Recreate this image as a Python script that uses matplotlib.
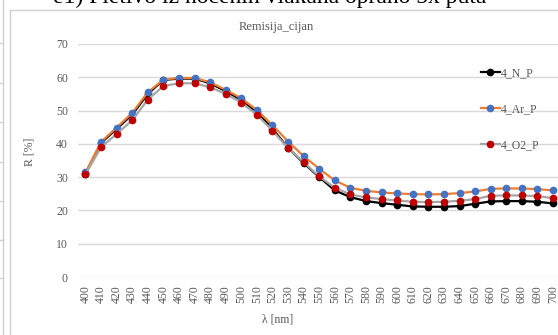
import matplotlib
matplotlib.use("Agg")
import matplotlib.pyplot as plt
from matplotlib.lines import Line2D

plt.rcParams['font.family'] = ['Liberation Serif', 'DejaVu Serif']

# talasne duzine (kategorije)
wavelengths = [400, 410, 420, 430, 440, 450, 460, 470, 480, 490, 500,
               510, 520, 530, 540, 550, 560, 570, 580, 590, 600,
               610, 620, 630, 640, 650, 660, 670, 680, 690, 700]

n_p = [31.0, 40.3, 44.5, 48.8, 55.0, 59.2, 59.6, 59.6, 58.2, 55.8, 53.2,
       49.6, 44.5, 38.8, 34.2, 30.0, 26.0, 24.0, 22.8, 22.2, 21.7,
       21.2, 21.1, 21.1, 21.3, 22.0, 22.7, 22.8, 22.8, 22.6, 22.1]
ar_p = [31.4, 40.6, 44.9, 49.3, 55.5, 59.3, 59.8, 59.8, 58.5, 56.2, 53.7,
        50.1, 45.6, 40.7, 36.3, 32.5, 29.0, 26.8, 25.9, 25.4, 25.1,
        24.9, 24.8, 24.9, 25.2, 25.7, 26.5, 26.6, 26.6, 26.4, 26.0]
o2_p = [30.9, 39.0, 43.0, 47.1, 53.3, 57.4, 58.2, 58.2, 57.0, 55.0, 52.4,
        48.7, 44.0, 38.7, 34.5, 30.2, 26.8, 24.8, 23.9, 23.4, 23.0,
        22.6, 22.5, 22.6, 22.9, 23.4, 24.4, 24.5, 24.5, 24.3, 23.7]

series_names = ["4_N_P", "4_Ar_P", "4_O2_P"]
y_ticks = [0, 10, 20, 30, 40, 50, 60, 70]

W, H = 558, 335
fig = plt.figure(figsize=(W / 100, H / 100), dpi=100)
fig.patch.set_facecolor("white")

# okvir dokumenta / grafikona
border = "#D0D0D0"
fig.add_artist(Line2D([3 / W, 3 / W], [0, 1], color=border, lw=1))
fig.add_artist(Line2D([9.5 / W, 9.5 / W], [0, 1 - 10 / H], color=border, lw=1))
fig.add_artist(Line2D([9.5 / W, 1], [1 - 10 / H, 1 - 10 / H], color=border, lw=1))
for yy in [43, 83, 122, 162, 201, 240, 278]:
    fig.add_artist(Line2D([0, 3 / W], [1 - yy / H, 1 - yy / H], color=border, lw=1))

# naslov dokumenta (odsjecen na vrhu)
fig.text(270 / W, 1 - 3 / H, "e1) Pletivo iz nočenih vlakana oprano 5x puta",
         fontsize=17, ha="center", va="baseline", color="black")

left, right = 77.7, 560.8
bottom, top = 277, 44
ax = fig.add_axes([left / W, 1 - bottom / H, (right - left) / W, (bottom - top) / H])

x = list(range(len(wavelengths)))
ax.plot(x, n_p, color="black", lw=1.6, marker="o", ms=4.5,
        mfc="black", mec="black", label=series_names[0], zorder=3)
ax.plot(x, ar_p, color="#ED7D31", lw=1.6, marker="o", ms=4.5,
        mfc="#4472C4", mec="#4472C4", label=series_names[1], zorder=3)
ax.plot(x, o2_p, color="#A5A5A5", lw=1.6, marker="o", ms=4.5,
        mfc="#C00000", mec="#C00000", label=series_names[2], zorder=3)

ax.set_xlim(-0.5, len(wavelengths) - 0.5)
ax.set_ylim(0, 70)
ax.set_yticks(y_ticks)
ax.set_xticks(x)
ax.set_xticklabels([str(w) for w in wavelengths], rotation=90)
ax.tick_params(axis="both", length=0, labelsize=8.5, labelcolor="#595959")
ax.tick_params(axis="x", pad=6)
ax.tick_params(axis="y", pad=7)
ax.grid(axis="y", color="#D9D9D9", lw=1)
ax.set_axisbelow(True)
for s in ax.spines.values():
    s.set_visible(False)

fig.text(276 / W, 1 - 27 / H, "Remisija_cijan", fontsize=9,
         color="#595959", ha="center", va="center")
fig.text(278 / W, 1 - 320 / H, "λ [nm]", fontsize=8.5,
         color="#595959", ha="center", va="center")
fig.text(29 / W, 1 - 152 / H, "R [%]", fontsize=8.5, rotation=90,
         color="#595959", ha="center", va="center")

ax.legend(loc="upper left", bbox_to_anchor=(481 / W, 1 - 67 / H),
          bbox_transform=fig.transFigure, frameon=False, fontsize=8.5,
          labelcolor="#595959", handlelength=1.6, handletextpad=0.1,
          labelspacing=2.05, borderpad=0, borderaxespad=0)

fig.savefig("out.png", dpi=100)
